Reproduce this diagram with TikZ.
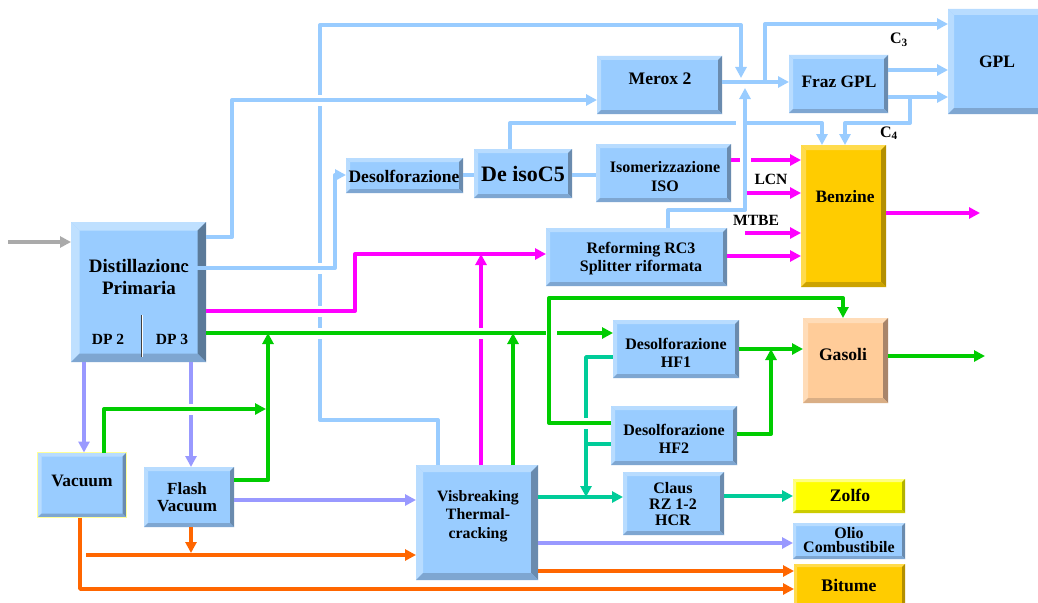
\documentclass[tikz,border=0pt]{standalone}
\usepackage{fontspec}
\setmainfont{Liberation Serif}
\usetikzlibrary{arrows.meta,fit}
\definecolor{boxblue}{HTML}{99CCFF}
\definecolor{boxlight}{HTML}{B8DCFF}
\definecolor{boxdark}{HTML}{6A8BAE}
\definecolor{boxbot}{HTML}{7EA6D1}
\definecolor{distlight}{HTML}{BFE0FF}
\definecolor{distdark}{HTML}{5B7A99}
\definecolor{gold}{HTML}{FFCC00}
\definecolor{goldlight}{HTML}{FFDB4D}
\definecolor{golddark}{HTML}{B38F00}
\definecolor{goldbot}{HTML}{CCA300}
\definecolor{peach}{HTML}{FFCC99}
\definecolor{peachlight}{HTML}{FFDCB8}
\definecolor{peachdark}{HTML}{A8856B}
\definecolor{peachbot}{HTML}{D9AE85}
\definecolor{sulf}{HTML}{FFFF00}
\definecolor{sulflight}{HTML}{FFFF80}
\definecolor{sulfdark}{HTML}{B3B300}
\definecolor{sulfbot}{HTML}{CCCC00}
\definecolor{vacedge}{HTML}{FFFF99}
\definecolor{lblue}{HTML}{99CCFF}
\definecolor{mag}{HTML}{FF00FF}
\definecolor{grn}{HTML}{00CC00}
\definecolor{teal2}{HTML}{00CC99}
\definecolor{lav}{HTML}{9999FF}
\definecolor{orng}{HTML}{FF6600}
\definecolor{gry}{HTML}{AAAAAA}
\newcommand\fs[2]{\fontsize{#1}{#2}\selectfont\bfseries}
\newcommand\gapv[2]{\fill[white] ({#1-3.5},{#2-5.5}) rectangle ({#1+3.5},{#2+5.5});}
\newcommand\gaph[2]{\fill[white] ({#1-5.5},{#2-3.5}) rectangle ({#1+5.5},{#2+3.5});}
\tikzset{
  bev/.style n args={5}{fill=#1, inner sep=0pt, outer sep=0pt, path picture={
    \fill[#2] (path picture bounding box.north west) -- (path picture bounding box.north east) -- ([shift={(-#5,-#5)}]path picture bounding box.north east) -- ([shift={(#5,-#5)}]path picture bounding box.north west) -- cycle;
    \fill[#2] (path picture bounding box.north west) -- (path picture bounding box.south west) -- ([shift={(#5,#5)}]path picture bounding box.south west) -- ([shift={(#5,-#5)}]path picture bounding box.north west) -- cycle;
    \fill[#3] (path picture bounding box.north east) -- (path picture bounding box.south east) -- ([shift={(-#5,#5)}]path picture bounding box.south east) -- ([shift={(-#5,-#5)}]path picture bounding box.north east) -- cycle;
    \fill[#4] (path picture bounding box.south west) -- (path picture bounding box.south east) -- ([shift={(-#5,#5)}]path picture bounding box.south east) -- ([shift={(#5,#5)}]path picture bounding box.south west) -- cycle;
  }},
  bb/.style={bev={boxblue}{boxlight}{boxdark}{boxbot}{4pt}},
  bbthin/.style={bev={boxblue}{boxlight}{boxdark}{boxbot}{3pt}},
  goldbox/.style={bev={gold}{goldlight}{golddark}{goldbot}{#1}},
  peachbox/.style={bev={peach}{peachlight}{peachdark}{peachbot}{5pt}},
  sulfbox/.style={bev={sulf}{sulflight}{sulfdark}{sulfbot}{3pt}},
  txt/.style={inner sep=0pt, align=center},
  wire/.style={line width=4pt},
  tip/.style={-{Triangle[length=11pt,width=11pt]}},
  lb/.style={wire, draw=lblue},
  mg/.style={wire, draw=mag},
  gr/.style={wire, draw=grn},
  tl/.style={line width=3.5pt, draw=teal2},
  lv/.style={wire, draw=lav},
  og/.style={line width=3.5pt, draw=orng},
  gy/.style={wire, draw=gry},
}
\begin{document}
\begin{tikzpicture}[x=1pt,y=-1pt,line join=round]
\fill[white] (0,0) rectangle (1038,602);
\useasboundingbox (0,0) rectangle (1038,602);
% ---------- boxes
\node[bev={boxblue}{distlight}{distdark}{boxbot}{8.5pt}, fit={(71,222) (206,362)}] (dist) {};
\node[bb, draw=vacedge, line width=1.2pt, fit={(37.5,452.5) (126.5,517.5)}] (vac) {};
\node[bb, fit={(144,467) (234,527)}] (flash) {};
\node[bev={boxblue}{boxlight}{boxdark}{boxbot}{7pt}, fit={(416,465) (538,580)}] (visb) {};
\node[bb, fit={(346,158) (463,193)}] (desolf) {};
\node[bb, fit={(474,149) (572,198)}] (deiso) {};
\node[bb, fit={(596,144) (731,202)}] (iso) {};
\node[bb, fit={(597,56) (722,114)}] (merox) {};
\node[bb, fit={(789,55) (888,113)}] (fraz) {};
\node[bev={boxblue}{boxlight}{boxdark}{boxbot}{6pt}, fit={(948,9) (1045,114)}] (gpl) {};
\node[goldbox=5pt, fit={(801,145) (886,287)}] (benz) {};
\node[bb, fit={(546,228) (727,286)}] (refo) {};
\node[peachbox, fit={(803,318) (888,403)}] (gasoli) {};
\node[bb, fit={(613,320) (739,378)}] (hf1) {};
\node[bb, fit={(611,406) (737,465)}] (hf2) {};
\node[bb, fit={(623,472) (724,535)}] (claus) {};
\node[sulfbox, fit={(793,479) (905,513)}] (zolfo) {};
\node[bbthin, fit={(793,523) (905,559)}] (olio) {};
\node[goldbox=3pt, fit={(794,564) (905,610)}] (bitume) {};
\draw[black!75, line width=1pt] (141,315) -- (141,357);
\draw[white, line width=0.8pt] (142.6,315) -- (142.6,357);
% ---------- texts
\node[txt, font=\fs{19}{22}] (distT) at (139,277) {Distillazione\\Primaria};
\node[txt, font=\fs{15.5}{18}] (dp2) at (108,339) {DP 2};
\node[txt, font=\fs{15.5}{18}] (dp3) at (172,339) {DP 3};
\node[txt, font=\fs{17.4}{20}] (vacT) at (82,481) {Vacuum};
\node[txt, font=\fs{17}{17}] (flashT) at (187,497) {Flash\\Vacuum};
\node[txt, font=\fs{15.8}{18.5}] (visbT) at (478,516) {Visbreaking\\Thermal-\\cracking};
\node[txt, font=\fs{17.5}{20}] (desolfT) at (404,176) {Desolforazione};
\node[txt, font=\fs{22}{24}] (deisoT) at (523,174) {De isoC5};
\node[txt, font=\fs{16}{19}] (isoT) at (665,177) {Isomerizzazione\\ISO};
\node[txt, font=\fs{17.6}{20}] (meroxT) at (660,79) {Merox 2};
\node[txt, font=\fs{17.4}{20}] (frazT) at (839,82) {Fraz GPL};
\node[txt, font=\fs{17.5}{20}] (gplT) at (997,62) {GPL};
\node[txt, font=\fs{17.4}{20}] (benzT) at (845,197) {Benzine};
\node[txt, font=\fs{16}{18}] (refoT) at (641,259) {Reforming RC3\\Splitter riformata};
\node[txt, font=\fs{17.6}{20}] (gasoliT) at (843,354) {Gasoli};
\node[txt, font=\fs{16}{18}] (hf1T) at (676,353) {Desolforazione\\HF1};
\node[txt, font=\fs{16}{18}] (hf2T) at (674,439) {Desolforazione\\HF2};
\node[txt, font=\fs{16}{16}] (clausT) at (673,504) {Claus\\RZ 1-2\\HCR};
\node[txt, font=\fs{17.6}{20}] (zolfoT) at (850,495) {Zolfo};
\node[txt, font=\fs{16}{14}] (olioT) at (849,540) {Olio\\Combustibile};
\node[txt, font=\fs{17.7}{20}] (bitumeT) at (849,585) {Bitume};
\node[txt, font=\fs{15.6}{18}] (lcnT) at (771,179) {LCN};
\node[txt, font=\fs{15.6}{18}] (mtbeT) at (756,220) {MTBE};
\node[txt, font=\fs{16}{18}] (c3T) at (899,40) {C$_{\mathbf 3}$};
\node[txt, font=\fs{16}{18}] (c4T) at (889,133) {C$_{\mathbf 4}$};
% ---------- free ends
\coordinate (in) at (8,242);
\coordinate (d268) at (183,268);
\coordinate (bout) at (980,213);
\coordinate (gout) at (985,356);
\coordinate (lcn) at (747,193);
\coordinate (mtbe) at (745,233);
\coordinate (obr) at (86,555);
% ---------- connectors
\draw[gy, tip] (in) -- (dist.west |- in);
\draw[lb, tip] (visb.north -| 438,0) -- (438,420) -- (320,420) -- (320,25) -- (741,25) -- (741,78);
\gapv{320}{100}\gapv{320}{268}\gapv{320}{311}\gapv{320}{333}
\draw[lb, tip] (dist.east |- 0,237) -- (232,237) -- (232,100) -- (merox.west |- 0,100);
\draw[lb, tip] (d268) -- (335,268) -- (335,175) -- (desolf.west |- 0,175);
\draw[lb] (desolf.east |- 0,175) -- (deiso.west |- 0,175);
\draw[lb] (deiso.east |- 0,175) -- (iso.west |- 0,175);
\draw[mg, tip] (dist.east |- 0,311) -- (355,311) -- (355,254) -- (refo.west |- 0,254);
\draw[mg, tip] (visb.north -| 481,0) -- (481,254);
\gapv{481}{333}
\draw[gr, tip] (dist.east |- 0,333) -- (hf1.west |- 0,333);
\draw[gr, tip] (flash.east |- 0,480) -- (268,480) -- (268,333);
\draw[gr, tip] (visb.north -| 513,0) -- (513,333);
\draw[tl, tip] (hf1.west |- 0,357) -- (586,357) -- (586,497);
\draw[tl] (hf2.west |- 0,444) -- (586,444);
\gaph{551}{333}\gapv{586}{423}
\draw[gr, tip] (hf2.west |- 0,423) -- (549,423) -- (549,298) -- (843,298) -- (gasoli.north -| 843,0);
\draw[gr, tip] (hf1.east |- 0,349) -- (gasoli.west |- 0,349);
\draw[gr, tip] (hf2.east |- 0,434) -- (771,434) -- (771,349);
\draw[gr, tip] (gasoli.east |- gout) -- (gout);
\draw[lv, tip] (dist.south -| 84,0) -- (vac.north -| 84,0);
\draw[lv, tip] (dist.south -| 191,0) -- (flash.north -| 191,0);
\gapv{191}{409}
\draw[gr, tip] (vac.north -| 104,0) -- (104,409) -- (266,409);
\draw[lv, tip] (flash.east |- 0,500) -- (visb.west |- 0,500);
\draw[lv, tip] (visb.east |- 0,543) -- (olio.west |- 0,543);
\draw[tl, tip] (visb.east |- 0,497) -- (claus.west |- 0,497);
\draw[tl, tip] (claus.east |- 0,496) -- (zolfo.west |- 0,496);
\draw[og, tip] (flash.south -| 191,0) -- (191,553);
\draw[og, tip] (obr) -- (visb.west |- obr);
\draw[og, tip] (vac.south -| 80,0) -- (80,589) -- (bitume.west |- 0,589);
\draw[og, tip] (visb.east |- 0,571) -- (bitume.west |- 0,571);
\draw[mg, tip] (iso.east |- 0,160) -- (benz.west |- 0,160);
\draw[lb, tip] (deiso.north -| 510,0) -- (510,123) -- (822,123) -- (benz.north -| 822,0);
\gaph{745}{160}\gaph{741}{123}
\draw[lb, tip] (refo.north -| 668,0) -- (668,210) -- (745,210) -- (745,88);
\draw[mg, tip] (lcn) -- (benz.west |- lcn);
\draw[mg, tip] (mtbe) -- (benz.west |- mtbe);
\draw[mg, tip] (refo.east |- 0,256) -- (benz.west |- 0,256);
\draw[mg, tip] (benz.east |- bout) -- (bout);
\draw[lb, tip] (merox.east |- 0,82) -- (fraz.west |- 0,82);
\draw[lb, tip] (765,82) -- (765,24) -- (gpl.west |- 0,24);
\draw[lb, tip] (fraz.east |- 0,70) -- (gpl.west |- 0,70);
\draw[lb, tip] (fraz.east |- 0,97) -- (gpl.west |- 0,97);
\draw[lb, tip] (910,97) -- (910,123) -- (845,123) -- (benz.north -| 845,0);
\end{tikzpicture}
\end{document}
